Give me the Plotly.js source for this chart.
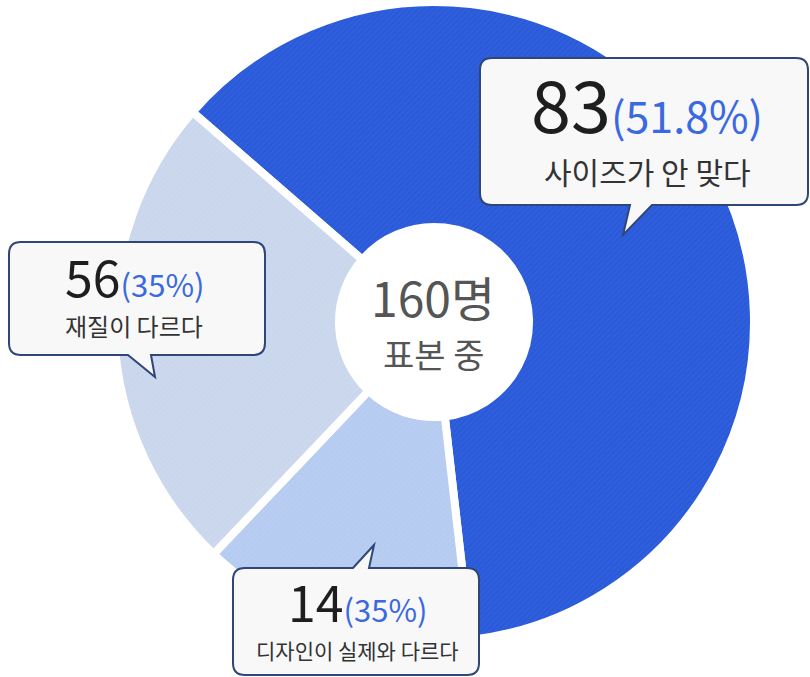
<!DOCTYPE html>
<html>
<head>
<meta charset="utf-8">
<script src="https://cdn.plot.ly/plotly-3.0.1.min.js"></script>
<style>
  html, body { margin: 0; padding: 0; background: #ffffff; }
  #chart { width: 810px; height: 677px; }
</style>
</head>
<body>
<div id="chart"></div>
<script>
// ---- data ----
const sliceLabels = ['사이즈가 안 맞다', '디자인이 실제와 다르다', '재질이 다르다'];
const counts = [83, 14, 56];
const pctText = ['51.8%', '35%', '35%'];
// share of the circle that each slice occupies as drawn in the reference
const drawnShares = [61.8, 13.9, 24.3];
const sliceColors = ['#2a5ad9', '#b5cbf0', '#c9d6ec'];
const stripeColors = ['#3a68e0', '#bed2f3', '#d1dcef'];
const centerLines = ['160명', '표본 중'];

// ---- layout helpers (pixel -> paper) ----
const W = 810, H = 677;
const FONT = '"Noto Sans CJK KR", "Noto Sans", sans-serif';
function px(x) { return x / W; }
function py(y) { return 1 - y / H; }
function pt(x, y) { return px(x).toFixed(5) + ',' + py(y).toFixed(5); }

function bubblePath(b) {
  const r = b.r, x0 = b.x0, y0 = b.y0, x1 = b.x1, y1 = b.y1, t = b.tail;
  let d = 'M' + pt(x0 + r, y0);
  if (t.side === 'top') d += ' L' + pt(t.a, y0) + ' L' + pt(t.tx, t.ty) + ' L' + pt(t.b, y0);
  d += ' L' + pt(x1 - r, y0) + ' Q' + pt(x1, y0) + ' ' + pt(x1, y0 + r);
  d += ' L' + pt(x1, y1 - r) + ' Q' + pt(x1, y1) + ' ' + pt(x1 - r, y1);
  if (t.side === 'bottom') d += ' L' + pt(t.b, y1) + ' L' + pt(t.tx, t.ty) + ' L' + pt(t.a, y1);
  d += ' L' + pt(x0 + r, y1) + ' Q' + pt(x0, y1) + ' ' + pt(x0, y1 - r);
  d += ' L' + pt(x0, y0 + r) + ' Q' + pt(x0, y0) + ' ' + pt(x0 + r, y0) + ' Z';
  return d;
}

// callout boxes (layout only); "slice" says which slice the box describes
const bubbles = [
  { slice: 0, x0: 480, y0: 58, x1: 808, y1: 205, r: 12, tail: { side: 'bottom', a: 630, b: 652, tx: 623, ty: 235 },
    cx: 647, numY: 101, numSize: 72, pctSize: 43, bodyY: 171, bodySize: 30 },
  { slice: 2, x0: 9, y0: 242, x1: 265, y1: 355, r: 12, tail: { side: 'bottom', a: 128, b: 151, tx: 155, ty: 377 },
    cx: 134, numY: 275, numSize: 50, pctSize: 31, bodyY: 326, bodySize: 24 },
  { slice: 1, x0: 233, y0: 568, x1: 479, y1: 675, r: 12, tail: { side: 'top', a: 353, b: 369, tx: 374, ty: 545 },
    cx: 357, numY: 600, numSize: 50, pctSize: 31, bodyY: 650, bodySize: 21 }
];

const shapes = [
  { type: 'circle', xref: 'paper', yref: 'paper', layer: 'below',
    x0: px(434 - 322), x1: px(434 + 322), y0: py(322 + 322), y1: py(322 - 322),
    line: { color: '#f1f2f4', width: 3 }, fillcolor: 'rgba(0,0,0,0)' }
];
const annotations = [];
bubbles.forEach((b) => {
  const i = b.slice;
  shapes.push({ type: 'path', xref: 'paper', yref: 'paper', path: bubblePath(b),
    fillcolor: '#f8f8f9', line: { color: '#2e4678', width: 2 } });
  annotations.push({
    xref: 'paper', yref: 'paper', x: px(b.cx), y: py(b.numY), xanchor: 'center', yanchor: 'middle',
    showarrow: false, font: { family: FONT, size: b.pctSize, color: '#222222' },
    text: '<span style="font-size:' + b.numSize + 'px;color:#1e1e1e">' + counts[i] + '</span>' +
          '<span style="font-size:' + b.pctSize + 'px;color:#3a69e0">(' + pctText[i] + ')</span>'
  });
  annotations.push({
    xref: 'paper', yref: 'paper', x: px(b.cx), y: py(b.bodyY), xanchor: 'center', yanchor: 'middle',
    showarrow: false, font: { family: FONT, size: b.bodySize, color: '#333333' },
    text: sliceLabels[i]
  });
});
annotations.push({
  xref: 'paper', yref: 'paper', x: px(433), y: py(296), xanchor: 'center', yanchor: 'middle',
  showarrow: false, font: { family: FONT, size: 48, color: '#555555' }, text: centerLines[0]
});
annotations.push({
  xref: 'paper', yref: 'paper', x: px(433), y: py(353), xanchor: 'center', yanchor: 'middle',
  showarrow: false, font: { family: FONT, size: 34, color: '#555555' }, text: centerLines[1]
});

const trace = {
  type: 'pie',
  labels: sliceLabels,
  values: drawnShares,
  sort: false,
  direction: 'clockwise',
  rotation: -49,
  hole: 0.297,
  textinfo: 'none',
  hoverinfo: 'label',
  showlegend: false,
  domain: { x: [px(434 - 320), px(434 + 320)], y: [py(322 + 320), py(322 - 320)] },
  marker: {
    colors: sliceColors,
    line: { color: '#ffffff', width: 8 },
    pattern: { shape: '/', bgcolor: sliceColors, fgcolor: stripeColors, fgopacity: 0.5, size: 4, solidity: 0.35 }
  }
};

const layout = {
  width: W, height: H,
  margin: { l: 0, r: 0, t: 0, b: 0 },
  paper_bgcolor: '#ffffff',
  plot_bgcolor: '#ffffff',
  showlegend: false,
  font: { family: FONT },
  shapes: shapes,
  annotations: annotations
};

Plotly.newPlot('chart', [trace], layout, { displayModeBar: false, staticPlot: true });
</script>
</body>
</html>
